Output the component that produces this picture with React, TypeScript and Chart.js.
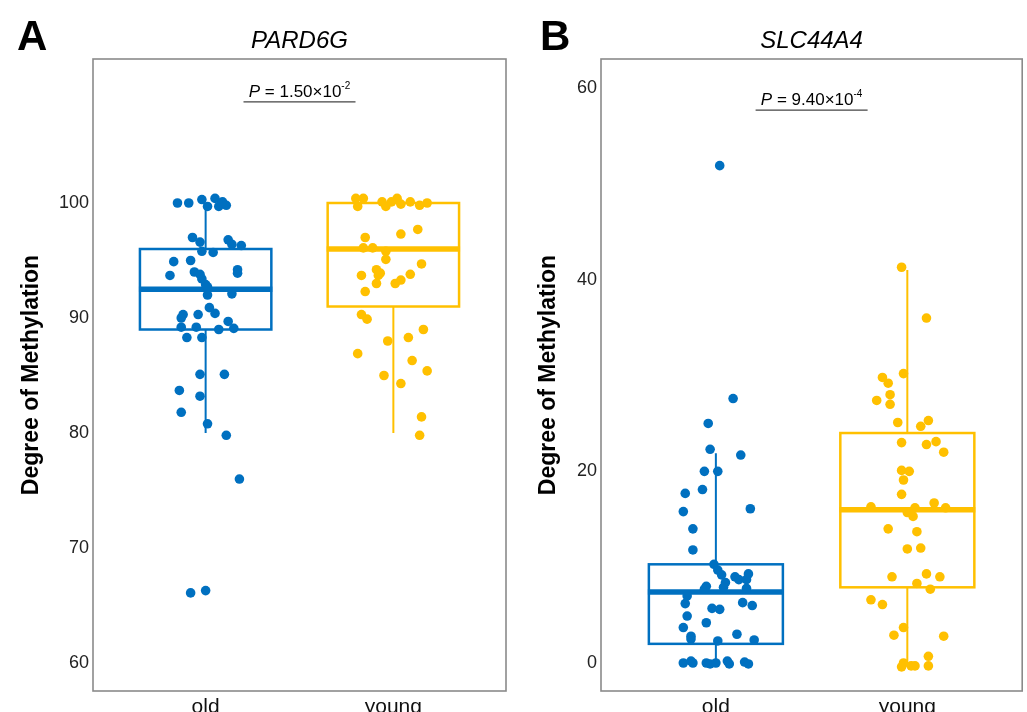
import React, { useEffect, useRef } from 'react';
import { Chart, registerables } from 'chart.js';

Chart.register(...registerables);

// ---------- data ----------
const groups = ['old', 'young'];

// PARD6G: [jittered x, methylation]
const pardOld: number[][] = [
  [0.85, 100], [0.91, 100], [0.98, 100.3], [1.05, 100.4], [1.01, 99.7], [1.09, 100.1], [1.07, 99.7], [1.11, 99.8],
  [0.93, 97.0], [0.97, 96.6], [1.12, 96.8], [1.14, 96.4], [1.19, 96.3], [0.98, 95.8], [1.04, 95.7], [0.83, 94.9],
  [0.92, 95.0], [1.17, 94.2], [1.17, 93.9], [0.81, 93.7], [0.94, 94.0], [0.97, 93.8], [0.98, 93.4], [1.0, 92.9],
  [1.01, 92.7], [1.01, 92.0], [1.14, 92.1], [1.02, 90.9], [1.05, 90.4], [0.96, 90.3], [0.88, 90.3], [0.87, 90.0],
  [1.12, 89.7], [0.87, 89.2], [0.95, 89.2], [1.07, 89.0], [1.15, 89.1], [0.9, 88.3], [0.98, 88.3], [0.97, 85.1],
  [1.1, 85.1], [0.86, 83.7], [0.97, 83.2], [0.87, 81.8], [1.01, 80.8], [1.11, 79.8], [1.18, 76.0], [0.92, 66.1],
  [1.0, 66.3],
];
const pardYoung: number[][] = [
  [1.8, 100.4], [1.84, 100.4], [1.81, 99.7], [1.94, 100.1], [1.96, 99.7], [1.99, 100.1], [2.02, 100.4], [2.04, 99.9],
  [2.09, 100.1], [2.14, 99.8], [2.18, 100.0], [1.85, 97.0], [2.04, 97.3], [2.13, 97.7], [1.84, 96.1], [1.89, 96.1],
  [1.96, 95.8], [1.96, 95.1], [1.91, 94.2], [1.93, 93.9], [1.92, 93.7], [2.15, 94.7], [1.83, 93.7], [2.09, 93.8],
  [2.04, 93.3], [2.01, 93.0], [1.91, 93.0], [1.85, 92.3], [1.83, 90.3], [1.86, 89.9], [2.16, 89.0], [1.97, 88.0],
  [2.08, 88.3], [1.81, 86.9], [2.1, 86.3], [2.18, 85.4], [1.95, 85.0], [2.04, 84.3], [2.15, 81.4], [2.14, 79.8],
];
// box stats: [lower whisker, Q1, median, Q3, upper whisker]
const pardOldBox = [80, 89, 92.5, 96, 100];
const pardYoungBox = [80, 91, 96, 100, 100];
const pardTicks = [60, 70, 80, 90, 100];

// SLC44A4
const slcOld: number[][] = [
  [1.02, 51.9], [1.09, 27.6], [0.96, 25.0], [0.97, 22.3], [1.13, 21.7], [0.94, 20.0], [1.01, 20.0], [0.84, 17.7],
  [0.93, 18.1], [0.83, 15.8], [1.18, 16.1], [0.88, 14.0], [0.88, 11.8], [0.99, 10.3], [1.01, 9.7], [1.03, 9.2],
  [1.1, 9.0], [1.12, 8.7], [1.17, 9.3], [1.16, 8.7], [1.05, 8.4], [1.04, 7.9], [0.95, 8.0], [0.94, 7.7],
  [1.16, 7.8], [0.85, 7.0], [0.84, 6.2], [1.14, 6.3], [1.19, 6.0], [0.98, 5.7], [1.02, 5.6], [0.85, 4.9],
  [0.95, 4.2], [0.83, 3.7], [1.11, 3.0], [0.87, 2.8], [0.87, 2.5], [1.01, 2.3], [1.2, 2.4], [0.83, 0.0],
  [0.87, 0.2], [0.88, 0.0], [0.95, 0.0], [0.97, -0.1], [1.0, 0.0], [1.06, 0.2], [1.07, -0.1], [1.15, 0.1],
  [1.17, -0.1],
];
const slcYoung: number[][] = [
  [1.97, 41.3], [2.1, 36.0], [1.98, 30.2], [1.87, 29.8], [1.9, 29.2], [1.91, 28.0], [1.91, 27.0], [1.84, 27.4],
  [1.95, 25.1], [2.07, 24.7], [2.11, 25.3], [1.97, 23.0], [2.1, 22.8], [2.15, 23.1], [2.19, 22.0], [1.97, 20.1],
  [2.01, 20.0], [1.98, 19.1], [1.97, 17.6], [1.81, 16.3], [2.04, 16.2], [2.14, 16.7], [2.2, 16.2], [2.0, 15.7],
  [2.03, 15.3], [1.9, 14.0], [2.05, 13.7], [2.0, 11.9], [2.07, 12.0], [1.92, 9.0], [2.1, 9.3], [2.17, 9.0],
  [2.05, 8.3], [2.12, 7.7], [1.81, 6.6], [1.87, 6.1], [1.98, 3.7], [1.93, 2.9], [2.19, 2.8], [2.11, 0.7],
  [1.98, 0.0], [1.97, -0.4], [2.02, -0.3], [2.04, -0.3], [2.11, -0.3],
];
const slcOldBox = [0, 2, 7.4, 10.3, 21.9];
const slcYoungBox = [0, 7.9, 16, 24, 41];
const slcTicks = [0, 20, 40, 60];

const colors = ['#0070C0', '#FFC000'];
const FONT = "'Liberation Sans', Arial, sans-serif";

type PanelCfg = {
  id: string;
  letter: string;
  gene: string;
  pMant: string;
  pExp: string;
  pLineValue: number;
  old: number[][];
  young: number[][];
  boxes: number[][];
  ticks: number[];
  yMin: number;
  yMax: number;
  width: number;
  areaLeft: number;
  areaRight: number;
  titlePad: number;
};

function makePlugin(cfg: PanelCfg) {
  return {
    id: 'panel' + cfg.id,
    beforeDatasetsDraw(chart: any) {
      const { ctx, scales } = chart;
      const x = scales.x;
      const y = scales.y;
      ctx.save();
      cfg.boxes.forEach((b, i) => {
        const c = i + 1;
        const xl = x.getPixelForValue(c - 0.35);
        const xr = x.getPixelForValue(c + 0.35);
        const xc = x.getPixelForValue(c);
        const [lo, q1, med, q3, hi] = b.map((v) => y.getPixelForValue(v));
        ctx.strokeStyle = colors[i];
        ctx.lineWidth = 2;
        ctx.beginPath();
        ctx.moveTo(xc, q3);
        ctx.lineTo(xc, hi);
        ctx.moveTo(xc, q1);
        ctx.lineTo(xc, lo);
        ctx.stroke();
        ctx.lineWidth = 2.5;
        ctx.strokeRect(xl, q3, xr - xl, q1 - q3);
        ctx.lineWidth = 5.5;
        ctx.beginPath();
        ctx.moveTo(xl - 1, med);
        ctx.lineTo(xr + 1, med);
        ctx.stroke();
      });
      ctx.restore();
    },
    afterDraw(chart: any) {
      const { ctx, chartArea, scales } = chart;
      const y = scales.y;
      ctx.save();
      // panel border
      ctx.strokeStyle = '#8a8a8a';
      ctx.lineWidth = 1.6;
      ctx.strokeRect(chartArea.left, chartArea.top, chartArea.right - chartArea.left, chartArea.bottom - chartArea.top);
      const cx = (chartArea.left + chartArea.right) / 2;
      // letter
      ctx.fillStyle = '#000';
      ctx.textBaseline = 'alphabetic';
      ctx.textAlign = 'left';
      ctx.font = `bold 42px ${FONT}`;
      ctx.fillText(cfg.letter, cfg.id === 'A' ? 17 : 27, 50);
      // gene title
      ctx.textAlign = 'center';
      ctx.font = `italic 24px ${FONT}`;
      ctx.fillText(cfg.gene, cx, 48);
      // p value
      const lineY = y.getPixelForValue(cfg.pLineValue);
      const f1 = `italic 17px ${FONT}`;
      const f2 = `17px ${FONT}`;
      const f3 = `10px ${FONT}`;
      ctx.font = f1;
      const w1 = ctx.measureText('P').width;
      ctx.font = f2;
      const mid = ' = ' + cfg.pMant + '\u00d710';
      const w2 = ctx.measureText(mid).width;
      ctx.font = f3;
      const w3 = ctx.measureText(cfg.pExp).width;
      let sx = cx - (w1 + w2 + w3) / 2;
      const base = lineY - 5;
      ctx.textAlign = 'left';
      ctx.font = f1;
      ctx.fillText('P', sx, base);
      sx += w1;
      ctx.font = f2;
      ctx.fillText(mid, sx, base);
      sx += w2;
      ctx.font = f3;
      ctx.fillText(cfg.pExp, sx, base - 8);
      ctx.strokeStyle = '#444';
      ctx.lineWidth = 1.2;
      ctx.beginPath();
      ctx.moveTo(cx - 56, lineY);
      ctx.lineTo(cx + 56, lineY);
      ctx.stroke();
      ctx.restore();
    },
  };
}

function Panel({ cfg, left }: { cfg: PanelCfg; left: number }) {
  const ref = useRef<HTMLCanvasElement>(null);
  useEffect(() => {
    if (!ref.current) return;
    const chart = new Chart(ref.current, {
      type: 'scatter',
      data: {
        datasets: [
          {
            label: groups[0],
            data: cfg.old.map(([x, y]) => ({ x, y })),
            backgroundColor: colors[0],
            borderWidth: 0,
            pointRadius: 4.8,
          },
          {
            label: groups[1],
            data: cfg.young.map(([x, y]) => ({ x, y })),
            backgroundColor: colors[1],
            borderWidth: 0,
            pointRadius: 4.8,
          },
        ],
      },
      options: {
        responsive: false,
        animation: false,
        devicePixelRatio: 1,
        layout: { padding: { top: 59, left: 0, right: cfg.width - cfg.areaRight, bottom: 0 } },
        plugins: { legend: { display: false }, tooltip: { enabled: false }, title: { display: false } },
        scales: {
          x: {
            type: 'linear',
            min: 0.4,
            max: 2.6,
            grid: { display: false, drawTicks: false },
            border: { display: false },
            afterBuildTicks: (s: any) => {
              s.ticks = [{ value: 1 }, { value: 2 }];
            },
            afterFit: (s: any) => {
              s.height = 21;
            },
            ticks: {
              padding: 4,
              color: '#111',
              font: { family: FONT, size: 21 },
              callback: (v: any) => groups[Math.round(Number(v)) - 1] ?? '',
            },
          },
          y: {
            type: 'linear',
            min: cfg.yMin,
            max: cfg.yMax,
            grid: { display: false, drawTicks: false },
            border: { display: false },
            afterBuildTicks: (s: any) => {
              s.ticks = cfg.ticks.map((value) => ({ value }));
            },
            afterFit: (s: any) => {
              s.width = cfg.areaLeft;
            },
            ticks: {
              padding: 4,
              color: '#222',
              font: { family: FONT, size: 18 },
            },
            title: {
              display: true,
              text: 'Degree of Methylation',
              color: '#000',
              font: { family: FONT, size: 23, weight: 'bold' },
              padding: { top: cfg.titlePad, bottom: 0 },
            },
          },
        },
      },
      plugins: [makePlugin(cfg)],
    } as any);
    return () => chart.destroy();
  }, [cfg]);
  return (
    <canvas
      ref={ref}
      width={cfg.width}
      height={712}
      style={{ position: 'absolute', left, top: 0, width: cfg.width, height: 712 }}
    />
  );
}

const panelA: PanelCfg = {
  id: 'A',
  letter: 'A',
  gene: 'PARD6G',
  pMant: '1.50',
  pExp: '-2',
  pLineValue: 108.8,
  old: pardOld,
  young: pardYoung,
  boxes: [pardOldBox, pardYoungBox],
  ticks: pardTicks,
  yMin: 57.57,
  yMax: 112.52,
  width: 513,
  areaLeft: 93,
  areaRight: 506,
  titlePad: 18,
};

const panelB: PanelCfg = {
  id: 'B',
  letter: 'B',
  gene: 'SLC44A4',
  pMant: '9.40',
  pExp: '-4',
  pLineValue: 57.7,
  old: slcOld,
  young: slcYoung,
  boxes: [slcOldBox, slcYoungBox],
  ticks: slcTicks,
  yMin: -2.92,
  yMax: 63.03,
  width: 514,
  areaLeft: 88,
  areaRight: 510,
  titlePad: 22,
};

export default function App() {
  return (
    <div style={{ position: 'absolute', left: 0, top: 0, width: 1027, height: 712, background: '#fff', overflow: 'hidden' }}>
      <Panel cfg={panelA} left={0} />
      <Panel cfg={panelB} left={513} />
    </div>
  );
}
